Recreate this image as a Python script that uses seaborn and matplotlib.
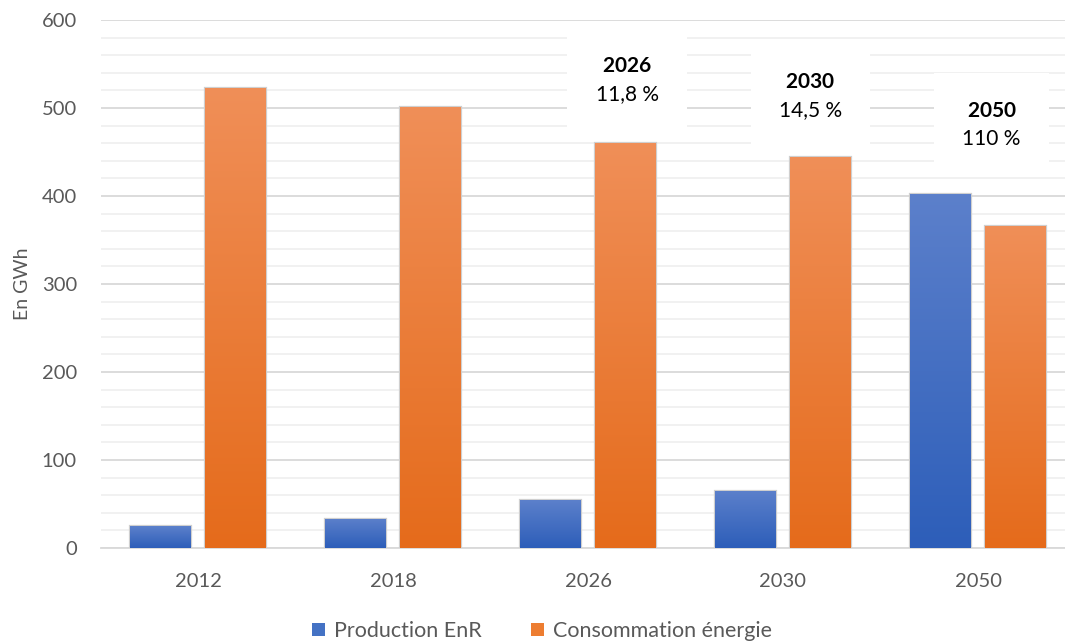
import numpy as np
import pandas as pd
import matplotlib
matplotlib.use("Agg")
import matplotlib.pyplot as plt
import seaborn as sns
from matplotlib.colors import LinearSegmentedColormap
from matplotlib.ticker import MultipleLocator

# ---------------- data ----------------
years = ["2012", "2018", "2026", "2030", "2050"]
production = [25, 33, 54, 65, 402]
consommation = [523, 501, 460, 444, 366]
series_names = ["Production EnR", "Consommation énergie"]
ann_years = ["2026", "2030", "2050"]
ann_pct = ["11,8 %", "14,5 %", "110 %"]

df = pd.DataFrame({
    "Année": years * 2,
    "Valeur": production + consommation,
    "Série": [series_names[0]] * len(years) + [series_names[1]] * len(years),
})

# ---------------- style ----------------
sns.set_theme(style="white")
plt.rcParams["font.family"] = ["Lato", "DejaVu Sans"]
plt.rcParams["mathtext.fontset"] = "custom"
plt.rcParams["mathtext.bf"] = "Lato:bold"
plt.rcParams["mathtext.rm"] = "Lato"

blue_mid, orange_mid = "#4472C4", "#ED7D31"
grads = {
    series_names[0]: ("#2D5EB9", "#5C80CB"),
    series_names[1]: ("#E56B1B", "#F08F58"),
}
TXT = "#595959"

fig = plt.figure(figsize=(10.65, 6.43), dpi=100)
ax = fig.add_axes([100.5 / 1065, 95 / 643, 975 / 1065, 528 / 643])

sns.barplot(data=df, x="Année", y="Valeur", hue="Série", order=years,
            hue_order=series_names, palette=[blue_mid, orange_mid],
            width=0.77, gap=0.19, ax=ax, zorder=3, legend=True)

# gradient fill + light edge on each bar
for cont, name in zip(ax.containers, series_names):
    cmap = LinearSegmentedColormap.from_list(name, grads[name])
    for p in cont.patches:
        x0, y0 = p.get_x(), p.get_y()
        w, h = p.get_width(), p.get_height()
        p.set_edgecolor("#cfcfcf")
        p.set_linewidth(1.6)
        grad = np.linspace(0, 1, 256).reshape(-1, 1)
        im = ax.imshow(grad, extent=[x0, x0 + w, y0, y0 + h], origin="lower",
                       cmap=cmap, aspect="auto", zorder=3.5)
        im.set_clip_path(p)

ax.set_xlim(-0.5, len(years) - 0.5)
ax.set_ylim(0, 600)

# grid
ax.yaxis.set_major_locator(MultipleLocator(100))
ax.yaxis.set_minor_locator(MultipleLocator(20))
ax.grid(axis="y", which="major", color="#d9d9d9", linewidth=1.3, zorder=0)
ax.grid(axis="y", which="minor", color="#eeeeee", linewidth=1.1, zorder=0)
ax.set_axisbelow(True)
for s in ["top", "right", "left"]:
    ax.spines[s].set_visible(False)
ax.spines["bottom"].set_color("#d9d9d9")
ax.spines["bottom"].set_linewidth(1.3)

ax.tick_params(axis="both", which="both", length=0, labelsize=14.5, labelcolor=TXT)
ax.tick_params(axis="x", pad=18)
ax.tick_params(axis="y", pad=17)
ax.set_xlabel("")
ax.set_ylabel("En GWh", fontsize=14, color=TXT, labelpad=8)

# annotations (year in bold, percentage)
ann_pos = [(2.2, 532), (3.14, 514), (4.07, 481)]
for (xa, ya), yr, pc in zip(ann_pos, ann_years, ann_pct):
    ax.text(xa, ya, r"$\mathbf{" + yr + "}$" + "\n" + pc, ha="center", va="center",
            multialignment="center", fontsize=15, color="black", linespacing=1.5,
            zorder=2, bbox=dict(boxstyle="square,pad=1.35", fc="white", ec="none"))

# legend
leg = ax.legend(loc="center", bbox_to_anchor=(542 / 1065, 12 / 643),
                bbox_transform=fig.transFigure, ncol=2, frameon=False,
                fontsize=15.5, handlelength=0.6, handleheight=0.6,
                handletextpad=0.4, columnspacing=2.3)
for t in leg.get_texts():
    t.set_color(TXT)
for h, c in zip(leg.legend_handles, [blue_mid, orange_mid]):
    h.set_facecolor(c)
    h.set_edgecolor("none")

fig.savefig("out.png", dpi=100)
